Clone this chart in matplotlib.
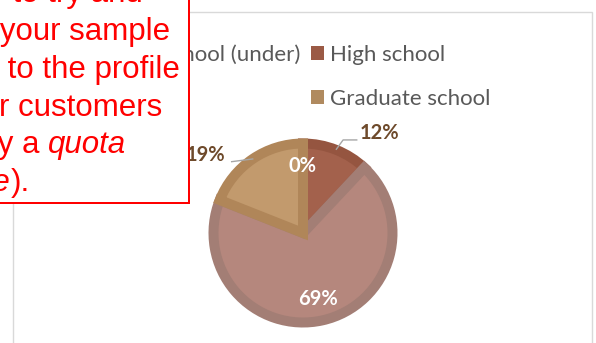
import matplotlib
matplotlib.use("Agg")
import matplotlib.pyplot as plt
from matplotlib.patches import Rectangle, Patch
import numpy as np

# ---- data -------------------------------------------------------------
categories = ["Junior high school (under)", "High school", "University", "Graduate school"]
shares = [0, 12, 69, 19]
fill_colors = ["#8A4F3B", "#A3614C", "#B5877D", "#C29A6D"]
edge_colors = ["#7A4432", "#955540", "#A37E75", "#B08659"]
legend_colors = ["#7A4432", "#9B5A45", "#A37E75", "#B08A5F"]

note_lines = [
    "in order to try and",
    "match your sample",
    "as close to the profile",
    "of your customers",
]
note_quota_prefix = "(by a"
note_quota_word = "quota"
note_last_word = "sample"
note_last_tail = ")."

# ---- figure -----------------------------------------------------------
W, H, DPI = 596, 343, 100
fig = plt.figure(figsize=(W / DPI, H / DPI), dpi=DPI)
fig.patch.set_facecolor("white")


def fx(px):
    return px / W


def fy(py):
    return 1 - py / H


# chart area border
fig.add_artist(Rectangle((fx(13), fy(H + 10)), fx(592) - fx(13), (H + 10 - 12) / H,
                         transform=fig.transFigure, facecolor="white",
                         edgecolor="#D9D9D9", linewidth=1.0, zorder=0))

# pie axes: data units are pie radii, centred on the pie
cx, cy, R = 303, 233, 89.5
ax = fig.add_axes([0, 0, 1, 1])
ax.patch.set_alpha(0)

wedges, _ = ax.pie(shares, colors=fill_colors, startangle=90, counterclock=False,
                   radius=1, center=(0, 0), frame=False,
                   wedgeprops=dict(linewidth=10 * 72 / DPI, joinstyle="miter"))
ax.set_aspect("auto")
ax.set_xlim(-cx / R, (W - cx) / R)
ax.set_ylim(-(H - cy) / R, cy / R)
ax.axis("off")

# darker inner border on each slice: stroke clipped to the slice itself
for w, ec in zip(wedges, edge_colors):
    w.set_edgecolor(ec)
    w.set_clip_path(w)

# ---- data labels ------------------------------------------------------
fracs = np.array(shares, dtype=float) / sum(shares)
mids = 360 * (np.cumsum(fracs) - fracs / 2)          # degrees clockwise from top
dirs = np.column_stack([np.sin(np.radians(mids)), np.cos(np.radians(mids))])

label_font = dict(family="Lato", fontweight="bold", fontsize=14.5)
outside_color = "#6E4A2B"
leader_color = "#A6A6A6"

for i, v in enumerate(shares):
    txt = f"{v}%"
    if i in (0, 2):
        x, y = dirs[i] * 0.75
        ax.text(x, y, txt, color="white", ha="center", va="center", **label_font)
    elif i == 1:
        rim = dirs[i]
        elbow = rim + np.array([0.08, 0.11])
        end = elbow + np.array([0.16, 0.0])
        ax.plot([rim[0], elbow[0], end[0]], [rim[1], elbow[1], end[1]],
                color=leader_color, lw=1.0, solid_capstyle="butt")
        ax.text(end[0] + 0.03, end[1] + 0.08, txt, color=outside_color,
                ha="left", va="center", **label_font)
    else:
        rim = dirs[i]
        end = rim + np.array([-0.235, -0.03])
        ax.plot([rim[0], end[0]], [rim[1], end[1]], color=leader_color, lw=1.0)
        ax.text(end[0] - 0.075, end[1] + 0.08, txt, color=outside_color,
                ha="right", va="center", **label_font)

# ---- legend (two rows) ------------------------------------------------
handles = [Patch(facecolor=c, edgecolor="none") for c in legend_colors]
order = [0, 2, 1, 3]  # fill column by column so rows read left to right
leg = ax.legend([handles[k] for k in order], [categories[k] for k in order],
                ncol=2, loc="upper right", frameon=False,
                bbox_to_anchor=(fx(490), fy(44)), bbox_transform=fig.transFigure,
                prop=dict(family="Lato", size=16), labelcolor="#595959",
                handlelength=0.6, handleheight=0.6, handletextpad=0.25,
                columnspacing=0.45, labelspacing=1.1, borderpad=0, borderaxespad=0)

# ---- note box ---------------------------------------------------------
fig.add_artist(Rectangle((fx(-5), fy(203)), fx(194), (203 + 5) / H,
                         transform=fig.transFigure, facecolor="white",
                         edgecolor="#FF0000", linewidth=2 * 72 / DPI, zorder=5))

note_font = dict(family="Liberation Sans", fontsize=22.5, color="#FF0000", zorder=6)
right_edges = [143, 170, 180, 162]
base0, step = 2.2, 37.8
for k, (line, xr) in enumerate(zip(note_lines, right_edges)):
    fig.text(fx(xr), fy(base0 + k * step), line, ha="right", va="baseline", **note_font)

q = fig.text(fx(126), fy(base0 + 4 * step), note_quota_word, ha="right", va="baseline",
             style="italic", **note_font)
fig.add_artist(plt.Annotation(note_quota_prefix, xy=(0, 0), xycoords=q,
                              xytext=(-6, 0), textcoords="offset points",
                              ha="right", va="bottom", **note_font))
s = fig.text(fx(11), fy(base0 + 5 * step), note_last_word, ha="right", va="baseline",
             style="italic", **note_font)
fig.add_artist(plt.Annotation(note_last_tail, xy=(1, 0), xycoords=s,
                              xytext=(0, 0), textcoords="offset points",
                              ha="left", va="bottom", **note_font))

fig.savefig("out.png", dpi=DPI, facecolor="white")
